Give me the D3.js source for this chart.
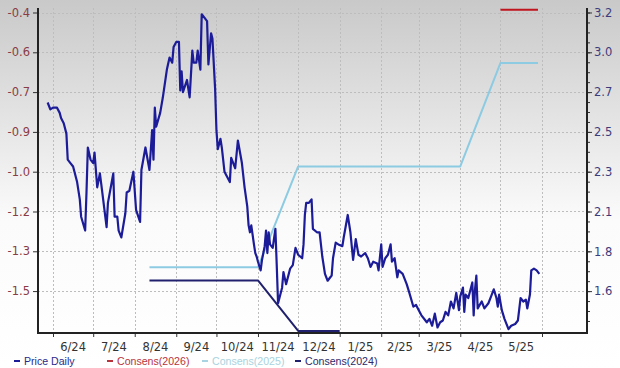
<!DOCTYPE html>
<html>
<head>
<meta charset="utf-8">
<script src="https://cdn.jsdelivr.net/npm/d3@7"></script>
<style>
	body { margin: 0; background: #fff; }
	.tickLabel { font-family: "DejaVu Sans", Verdana, sans-serif; font-size: 11.5px; }
	.legendText { font-family: "Liberation Sans", Arial, sans-serif; font-size: 10.6px; }
</style>
</head>
<body>
<div id="chart"></div>
<script>
/*global d3*/

// price daily (right axis)
const priceDates = [
	"2024-05-28","2024-05-30","2024-06-01","2024-06-04","2024-06-06","2024-06-07","2024-06-09","2024-06-11","2024-06-12","2024-06-14",
	"2024-06-16","2024-06-19","2024-06-21","2024-06-22","2024-06-25","2024-06-26","2024-06-27","2024-06-29","2024-07-01","2024-07-02",
	"2024-07-04","2024-07-06","2024-07-07","2024-07-11","2024-07-12","2024-07-16","2024-07-17","2024-07-19","2024-07-20","2024-07-22",
	"2024-07-25","2024-07-26","2024-07-28","2024-07-31","2024-08-02","2024-08-05","2024-08-06","2024-08-09","2024-08-12","2024-08-14",
	"2024-08-15","2024-08-16","2024-08-17","2024-08-20","2024-08-22","2024-08-25","2024-08-27","2024-08-29","2024-08-30","2024-09-01",
	"2024-09-03","2024-09-04","2024-09-05","2024-09-06","2024-09-09","2024-09-11","2024-09-13","2024-09-14","2024-09-16","2024-09-17",
	"2024-09-19","2024-09-20","2024-09-22","2024-09-24","2024-09-25","2024-09-27","2024-09-28","2024-09-30","2024-10-01","2024-10-02",
	"2024-10-04","2024-10-05","2024-10-07","2024-10-11","2024-10-12","2024-10-15","2024-10-17","2024-10-20","2024-10-22","2024-10-24",
	"2024-10-25","2024-10-26","2024-10-27","2024-10-29","2024-10-30","2024-10-31","2024-11-01","2024-11-03","2024-11-04","2024-11-06",
	"2024-11-07","2024-11-08","2024-11-09","2024-11-10","2024-11-12","2024-11-14","2024-11-15","2024-11-16","2024-11-19","2024-11-20",
	"2024-11-22","2024-11-25","2024-11-27","2024-11-29","2024-12-01","2024-12-04","2024-12-05","2024-12-06","2024-12-07","2024-12-09",
	"2024-12-11","2024-12-12","2024-12-15","2024-12-17","2024-12-19","2024-12-21","2024-12-23","2024-12-26","2024-12-27","2024-12-29",
	"2024-12-31","2025-01-03","2025-01-04","2025-01-07","2025-01-09","2025-01-11","2025-01-13","2025-01-15","2025-01-17","2025-01-20",
	"2025-01-22","2025-01-24","2025-01-26","2025-01-29","2025-01-30","2025-02-01","2025-02-02","2025-02-04","2025-02-06","2025-02-08",
	"2025-02-09","2025-02-11","2025-02-13","2025-02-14","2025-02-17","2025-02-20","2025-02-22","2025-02-25","2025-02-27","2025-03-01",
	"2025-03-03","2025-03-06","2025-03-07","2025-03-09","2025-03-11","2025-03-13","2025-03-15","2025-03-17","2025-03-19","2025-03-21",
	"2025-03-23","2025-03-25","2025-03-27","2025-03-29","2025-03-31","2025-04-01","2025-04-03","2025-04-04","2025-04-05","2025-04-07",
	"2025-04-10","2025-04-11","2025-04-12","2025-04-13","2025-04-14","2025-04-17","2025-04-19","2025-04-22","2025-04-24","2025-04-26",
	"2025-04-28","2025-04-29","2025-04-30","2025-05-02","2025-05-04","2025-05-07","2025-05-09","2025-05-12","2025-05-14","2025-05-16",
	"2025-05-18","2025-05-20","2025-05-21","2025-05-23","2025-05-24","2025-05-26","2025-05-28","2025-05-30"
];
const priceValues = [
	2.68,2.64,2.65,2.65,2.62,2.59,2.56,2.50,2.35,2.33,
	2.31,2.22,2.12,2.02,1.94,2.16,2.42,2.35,2.33,2.39,
	2.19,2.27,2.21,1.96,2.10,2.27,2.02,2.02,1.94,1.90,
	2.04,2.16,2.17,2.28,2.06,1.99,2.29,2.42,2.29,2.52,
	2.35,2.65,2.54,2.62,2.71,2.87,2.94,2.91,3.00,3.03,
	3.03,2.75,2.86,2.74,2.81,2.71,2.98,2.91,2.91,2.98,
	2.87,3.19,3.17,3.15,2.90,3.08,3.05,2.76,2.52,2.41,
	2.47,2.42,2.28,2.22,2.36,2.30,2.46,2.33,2.19,2.08,
	1.97,1.93,1.97,1.86,1.81,1.79,1.76,1.71,1.77,1.85,
	1.94,1.81,1.93,1.86,1.84,1.95,1.74,1.52,1.61,1.70,
	1.63,1.72,1.74,1.84,1.80,1.78,1.86,2.03,2.10,2.10,
	2.12,1.95,1.93,1.93,1.79,1.69,1.65,1.68,1.78,1.87,
	1.86,1.85,1.90,2.03,1.93,1.77,1.89,1.80,1.79,1.81,
	1.78,1.73,1.76,1.75,1.71,1.86,1.73,1.78,1.80,1.86,
	1.76,1.78,1.67,1.71,1.69,1.63,1.58,1.50,1.51,1.48,
	1.45,1.42,1.41,1.43,1.39,1.46,1.38,1.41,1.42,1.47,
	1.45,1.53,1.49,1.58,1.48,1.56,1.61,1.47,1.57,1.55,
	1.64,1.45,1.60,1.68,1.49,1.53,1.49,1.52,1.56,1.60,
	1.55,1.50,1.57,1.48,1.43,1.37,1.39,1.40,1.42,1.55,
	1.53,1.54,1.49,1.57,1.71,1.72,1.71,1.69
];

// consensus EPS estimates (left axis)
const cons2026Dates = ["2025-05-01", "2025-05-29"];
const cons2026Values = [-0.39, -0.39];
const cons2025Dates = ["2024-08-12", "2024-11-01", "2024-12-01", "2025-04-01", "2025-05-01", "2025-05-29"];
const cons2025Values = [-1.36, -1.36, -0.98, -0.98, -0.59, -0.59];
const cons2024Dates = ["2024-08-12", "2024-11-01", "2024-12-01", "2025-01-01"];
const cons2024Values = [-1.41, -1.41, -1.60, -1.60];

// axis ticks
const leftTicks = [-0.40, -0.55, -0.70, -0.85, -1.00, -1.15, -1.30, -1.45];
const leftLabels = ["-0.4", "-0.6", "-0.7", "-0.9", "-1.0", "-1.2", "-1.3", "-1.5"];
const rightTicks = [3.20, 2.97, 2.74, 2.51, 2.28, 2.05, 1.82, 1.59];
const rightLabels = ["3.2", "3.0", "2.7", "2.5", "2.3", "2.1", "1.8", "1.6"];
const monthLabels = ["6/24", "7/24", "8/24", "9/24", "10/24", "11/24", "12/24", "1/25", "2/25", "3/25", "4/25", "5/25"];
const monthStarts = ["2024-06-01", "2024-07-01", "2024-08-01", "2024-09-01", "2024-10-01", "2024-11-01",
	"2024-12-01", "2025-01-01", "2025-02-01", "2025-03-01", "2025-04-01", "2025-05-01", "2025-06-01"];

const legendNames = ["Price Daily", "Consens(2026)", "Consens(2025)", "Consens(2024)"];

let renderChart = function () {

	const COLORS = {
		price: "#1c1c98",
		c2026: "#c0141e",
		c2025: "#8ccbe2",
		c2024: "#20206e"
	};

	let width = 620, height = 368;
	let margin = { top: 8, right: 33, bottom: 35, left: 38 };
	let parse = d3.utcParse("%Y-%m-%d");

	let svg = d3.select("#chart")
		.append("svg")
		.attr("width", width)
		.attr("height", height);

	// background gradient
	let grad = svg.append("defs").append("linearGradient")
		.attr("id", "bg")
		.attr("x1", 0).attr("y1", 0).attr("x2", 0).attr("y2", 1);
	grad.append("stop").attr("offset", "0%").attr("stop-color", "#c9c9c9");
	grad.append("stop").attr("offset", "60%").attr("stop-color", "#fbfbfb");
	grad.append("stop").attr("offset", "100%").attr("stop-color", "#ffffff");

	svg.append("rect")
		.attr("width", width)
		.attr("height", height)
		.attr("fill", "url(#bg)");

	let x0 = margin.left, x1 = width - margin.right;
	let y0 = height - margin.bottom, y1 = margin.top;

	// scales: one year of months spans 53..542, the plot runs a little past both ends
	let x = d3.scaleUtc()
		.domain([parse(monthStarts[0]), parse(monthStarts[12])])
		.range([53, 542]);

	let yLeft = d3.scaleLinear()
		.domain([-1.608, -0.383])
		.range([y0, y1]);

	let yRight = d3.scaleLinear()
		.domain([1.348, 3.226])
		.range([y0, y1]);

	// grid lines
	let grid = svg.append("g")
		.attr("stroke", "#bdbdbd")
		.attr("stroke-width", 1)
		.attr("stroke-dasharray", "2,2");

	grid.selectAll(".hgrid")
		.data(leftTicks)
		.enter()
		.append("line")
		.attr("x1", x0).attr("x2", x1)
		.attr("y1", d => Math.round(yLeft(d)) + 0.5)
		.attr("y2", d => Math.round(yLeft(d)) + 0.5);

	grid.selectAll(".vgrid")
		.data(monthStarts)
		.enter()
		.append("line")
		.attr("x1", d => Math.round(x(parse(d))) + 0.5)
		.attr("x2", d => Math.round(x(parse(d))) + 0.5)
		.attr("y1", y1).attr("y2", y0);

	// lines
	let drawLine = function (dates, values, yScale, color, w) {
		let pts = dates.map((d, i) => [parse(d), values[i]]);
		svg.append("path")
			.datum(pts)
			.attr("fill", "none")
			.attr("stroke", color)
			.attr("stroke-width", w)
			.attr("stroke-linejoin", "round")
			.attr("d", d3.line()
				.x(d => x(d[0]))
				.y(d => yScale(d[1])));
	};

	drawLine(cons2024Dates, cons2024Values, yLeft, COLORS.c2024, 2);
	drawLine(cons2025Dates, cons2025Values, yLeft, COLORS.c2025, 2);
	drawLine(cons2026Dates, cons2026Values, yLeft, COLORS.c2026, 2);
	drawLine(priceDates, priceValues, yRight, COLORS.price, 2.2);

	// left axis
	let leftAxis = svg.append("g")
		.attr("transform", "translate(" + x0 + ",0)")
		.call(d3.axisLeft(yLeft)
			.tickValues(leftTicks)
			.tickFormat((d, i) => leftLabels[i])
			.tickSize(5)
			.tickPadding(3));
	leftAxis.select(".domain").remove();
	leftAxis.selectAll("line").attr("stroke", "#333");
	leftAxis.selectAll("text")
		.attr("class", "tickLabel")
		.attr("fill", "#8a3c44")
		.attr("font-family", null)
		.attr("font-size", null);

	// right axis with minor ticks
	let minorStep = (rightTicks[0] - rightTicks[1]) / 4;
	let minorTicks = d3.range(-3, 29).map(k => rightTicks[7] + k * minorStep)
		.filter(v => v > yRight.domain()[0] && v < yRight.domain()[1]);

	let rightMinor = svg.append("g")
		.attr("transform", "translate(" + x1 + ",0)")
		.call(d3.axisRight(yRight).tickValues(minorTicks).tickSize(3).tickFormat(""));
	rightMinor.select(".domain").remove();
	rightMinor.selectAll("line").attr("stroke", "#333");

	let rightAxis = svg.append("g")
		.attr("transform", "translate(" + x1 + ",0)")
		.call(d3.axisRight(yRight)
			.tickValues(rightTicks)
			.tickFormat((d, i) => rightLabels[i])
			.tickSize(5)
			.tickPadding(2));
	rightAxis.select(".domain").remove();
	rightAxis.selectAll("line").attr("stroke", "#333");
	rightAxis.selectAll("text")
		.attr("class", "tickLabel")
		.attr("fill", "#3c3c7c")
		.attr("font-family", null)
		.attr("font-size", null);

	// bottom ticks and month labels
	svg.append("g")
		.attr("transform", "translate(0," + y0 + ")")
		.call(d3.axisBottom(x)
			.tickValues(monthStarts.map(parse))
			.tickSize(4)
			.tickFormat(""))
		.call(g => g.select(".domain").remove())
		.selectAll("line").attr("stroke", "#333");

	svg.selectAll(".monthLabel")
		.data(monthLabels)
		.enter()
		.append("text")
		.attr("class", "tickLabel")
		.attr("x", (d, i) => (x(parse(monthStarts[i])) + x(parse(monthStarts[i + 1]))) / 2)
		.attr("y", y0 + 18)
		.attr("text-anchor", "middle")
		.attr("fill", "#333")
		.text(d => d);

	// frame
	svg.append("path")
		.attr("d", "M" + x0 + "," + y1 + "V" + y0 + "H" + x1 + "V" + y1)
		.attr("fill", "none")
		.attr("stroke", "#222")
		.attr("stroke-width", 2);

	// legend
	let legendX = [14, 107, 202, 295];
	let legendColors = [COLORS.price, "#b8343c", "#a9d3e0", COLORS.c2024];
	let legendTextColors = ["#2a2a8c", "#b8343c", "#a9d3e0", "#2a2a6c"];

	let legend = svg.selectAll(".legend")
		.data(legendNames)
		.enter()
		.append("g")
		.attr("class", "legend")
		.attr("transform", (d, i) => "translate(" + legendX[i] + "," + 361 + ")");

	legend.append("line")
		.attr("x1", 0).attr("x2", 6)
		.attr("stroke", (d, i) => legendColors[i])
		.attr("stroke-width", 2);

	legend.append("text")
		.attr("class", "legendText")
		.attr("x", 10)
		.attr("y", 4)
		.attr("fill", (d, i) => legendTextColors[i])
		.text(d => d);
};

renderChart();
</script>
</body>
</html>
